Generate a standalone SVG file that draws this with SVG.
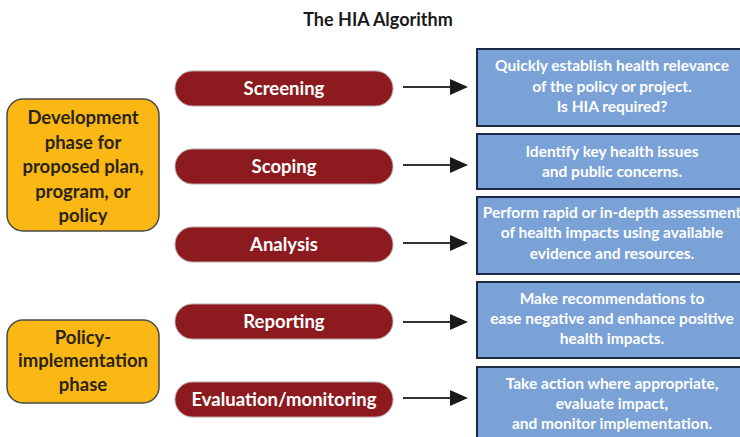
<svg xmlns="http://www.w3.org/2000/svg" width="740" height="437" viewBox="0 0 740 437">
<defs>
<style>
.title{font-family:Lato,"Open Sans","Liberation Sans",sans-serif;font-weight:700;font-size:18px;fill:#1a1a1a;text-anchor:middle}
.phase rect{fill:#FBB814;stroke:#4a4a4a;stroke-width:1.5}
.phase text{font-family:Lato,"Open Sans","Liberation Sans",sans-serif;font-weight:700;font-size:18.5px;fill:#2a2418;text-anchor:middle}
.step rect{fill:#8C1A1F;stroke:#b9a3a3;stroke-width:1}
.step text{font-family:Lato,"Open Sans","Liberation Sans",sans-serif;font-weight:700;font-size:18.5px;fill:#ffffff;text-anchor:middle}
.desc rect{fill:#7BA2D6;stroke:#1c2a48;stroke-width:2}
.desc text{font-family:Lato,"Open Sans","Liberation Sans",sans-serif;font-weight:700;font-size:15.5px;fill:#ffffff;text-anchor:middle}
.conn line{stroke:#333;stroke-width:2}
.conn path{fill:#1a1a1a}
</style>
</defs>
<rect width="740" height="437" fill="#ffffff"/>
<text class="title" x="378" y="26">The HIA Algorithm</text>

<g id="phase-development" class="phase">
<rect x="7" y="99" width="152" height="132" rx="16"/>
<text x="83" y="124">Development</text>
<text x="83" y="149">phase for</text>
<text x="83" y="173">proposed plan,</text>
<text x="83" y="198">program, or</text>
<text x="83" y="222">policy</text>
</g>

<g id="phase-implementation" class="phase">
<rect x="7" y="320" width="152" height="83" rx="16"/>
<text x="83" y="344">Policy-</text>
<text x="83" y="367">implementation</text>
<text x="83" y="391">phase</text>
</g>

<g id="step-screening" class="step">
<rect x="175" y="71" width="218" height="35" rx="17.5"/>
<text x="284" y="94.5">Screening</text>
</g>
<g id="step-scoping" class="step">
<rect x="175" y="149" width="218" height="35" rx="17.5"/>
<text x="284" y="172.5">Scoping</text>
</g>
<g id="step-analysis" class="step">
<rect x="175" y="227" width="218" height="35" rx="17.5"/>
<text x="284" y="250.5">Analysis</text>
</g>
<g id="step-reporting" class="step">
<rect x="175" y="304" width="218" height="35" rx="17.5"/>
<text x="284" y="327.5">Reporting</text>
</g>
<g id="step-evaluation" class="step">
<rect x="175" y="382" width="218" height="35" rx="17.5"/>
<text x="284" y="405.5">Evaluation/monitoring</text>
</g>

<g id="connectors" class="conn">
<line x1="403" y1="87" x2="451" y2="87"/>
<path d="M450,79 L468,87 L450,95 Z"/>
<line x1="403" y1="165" x2="451" y2="165"/>
<path d="M450,157 L468,165 L450,173 Z"/>
<line x1="403" y1="243" x2="451" y2="243"/>
<path d="M450,235 L468,243 L450,251 Z"/>
<line x1="403" y1="322" x2="451" y2="322"/>
<path d="M450,314 L468,322 L450,330 Z"/>
<line x1="403" y1="398" x2="451" y2="398"/>
<path d="M450,390 L468,398 L450,406 Z"/>
</g>

<g id="desc-screening" class="desc">
<rect x="477" y="49" width="272" height="77"/>
<text x="612" y="71">Quickly establish health relevance</text>
<text x="612" y="92">of the policy or project.</text>
<text x="612" y="112">Is HIA required?</text>
</g>
<g id="desc-scoping" class="desc">
<rect x="477" y="134" width="272" height="55"/>
<text x="612" y="157">Identify key health issues</text>
<text x="612" y="177">and public concerns.</text>
</g>
<g id="desc-analysis" class="desc">
<rect x="477" y="197" width="272" height="77"/>
<text x="612" y="218">Perform rapid or in-depth assessment</text>
<text x="612" y="238">of health impacts using available</text>
<text x="612" y="259">evidence and resources.</text>
</g>
<g id="desc-reporting" class="desc">
<rect x="477" y="282" width="272" height="76"/>
<text x="612" y="304">Make recommendations to</text>
<text x="612" y="324">ease negative and enhance positive</text>
<text x="612" y="344">health impacts.</text>
</g>
<g id="desc-evaluation" class="desc">
<rect x="477" y="367" width="272" height="80"/>
<text x="612" y="389">Take action where appropriate,</text>
<text x="612" y="409">evaluate impact,</text>
<text x="612" y="429">and monitor implementation.</text>
</g>
</svg>
